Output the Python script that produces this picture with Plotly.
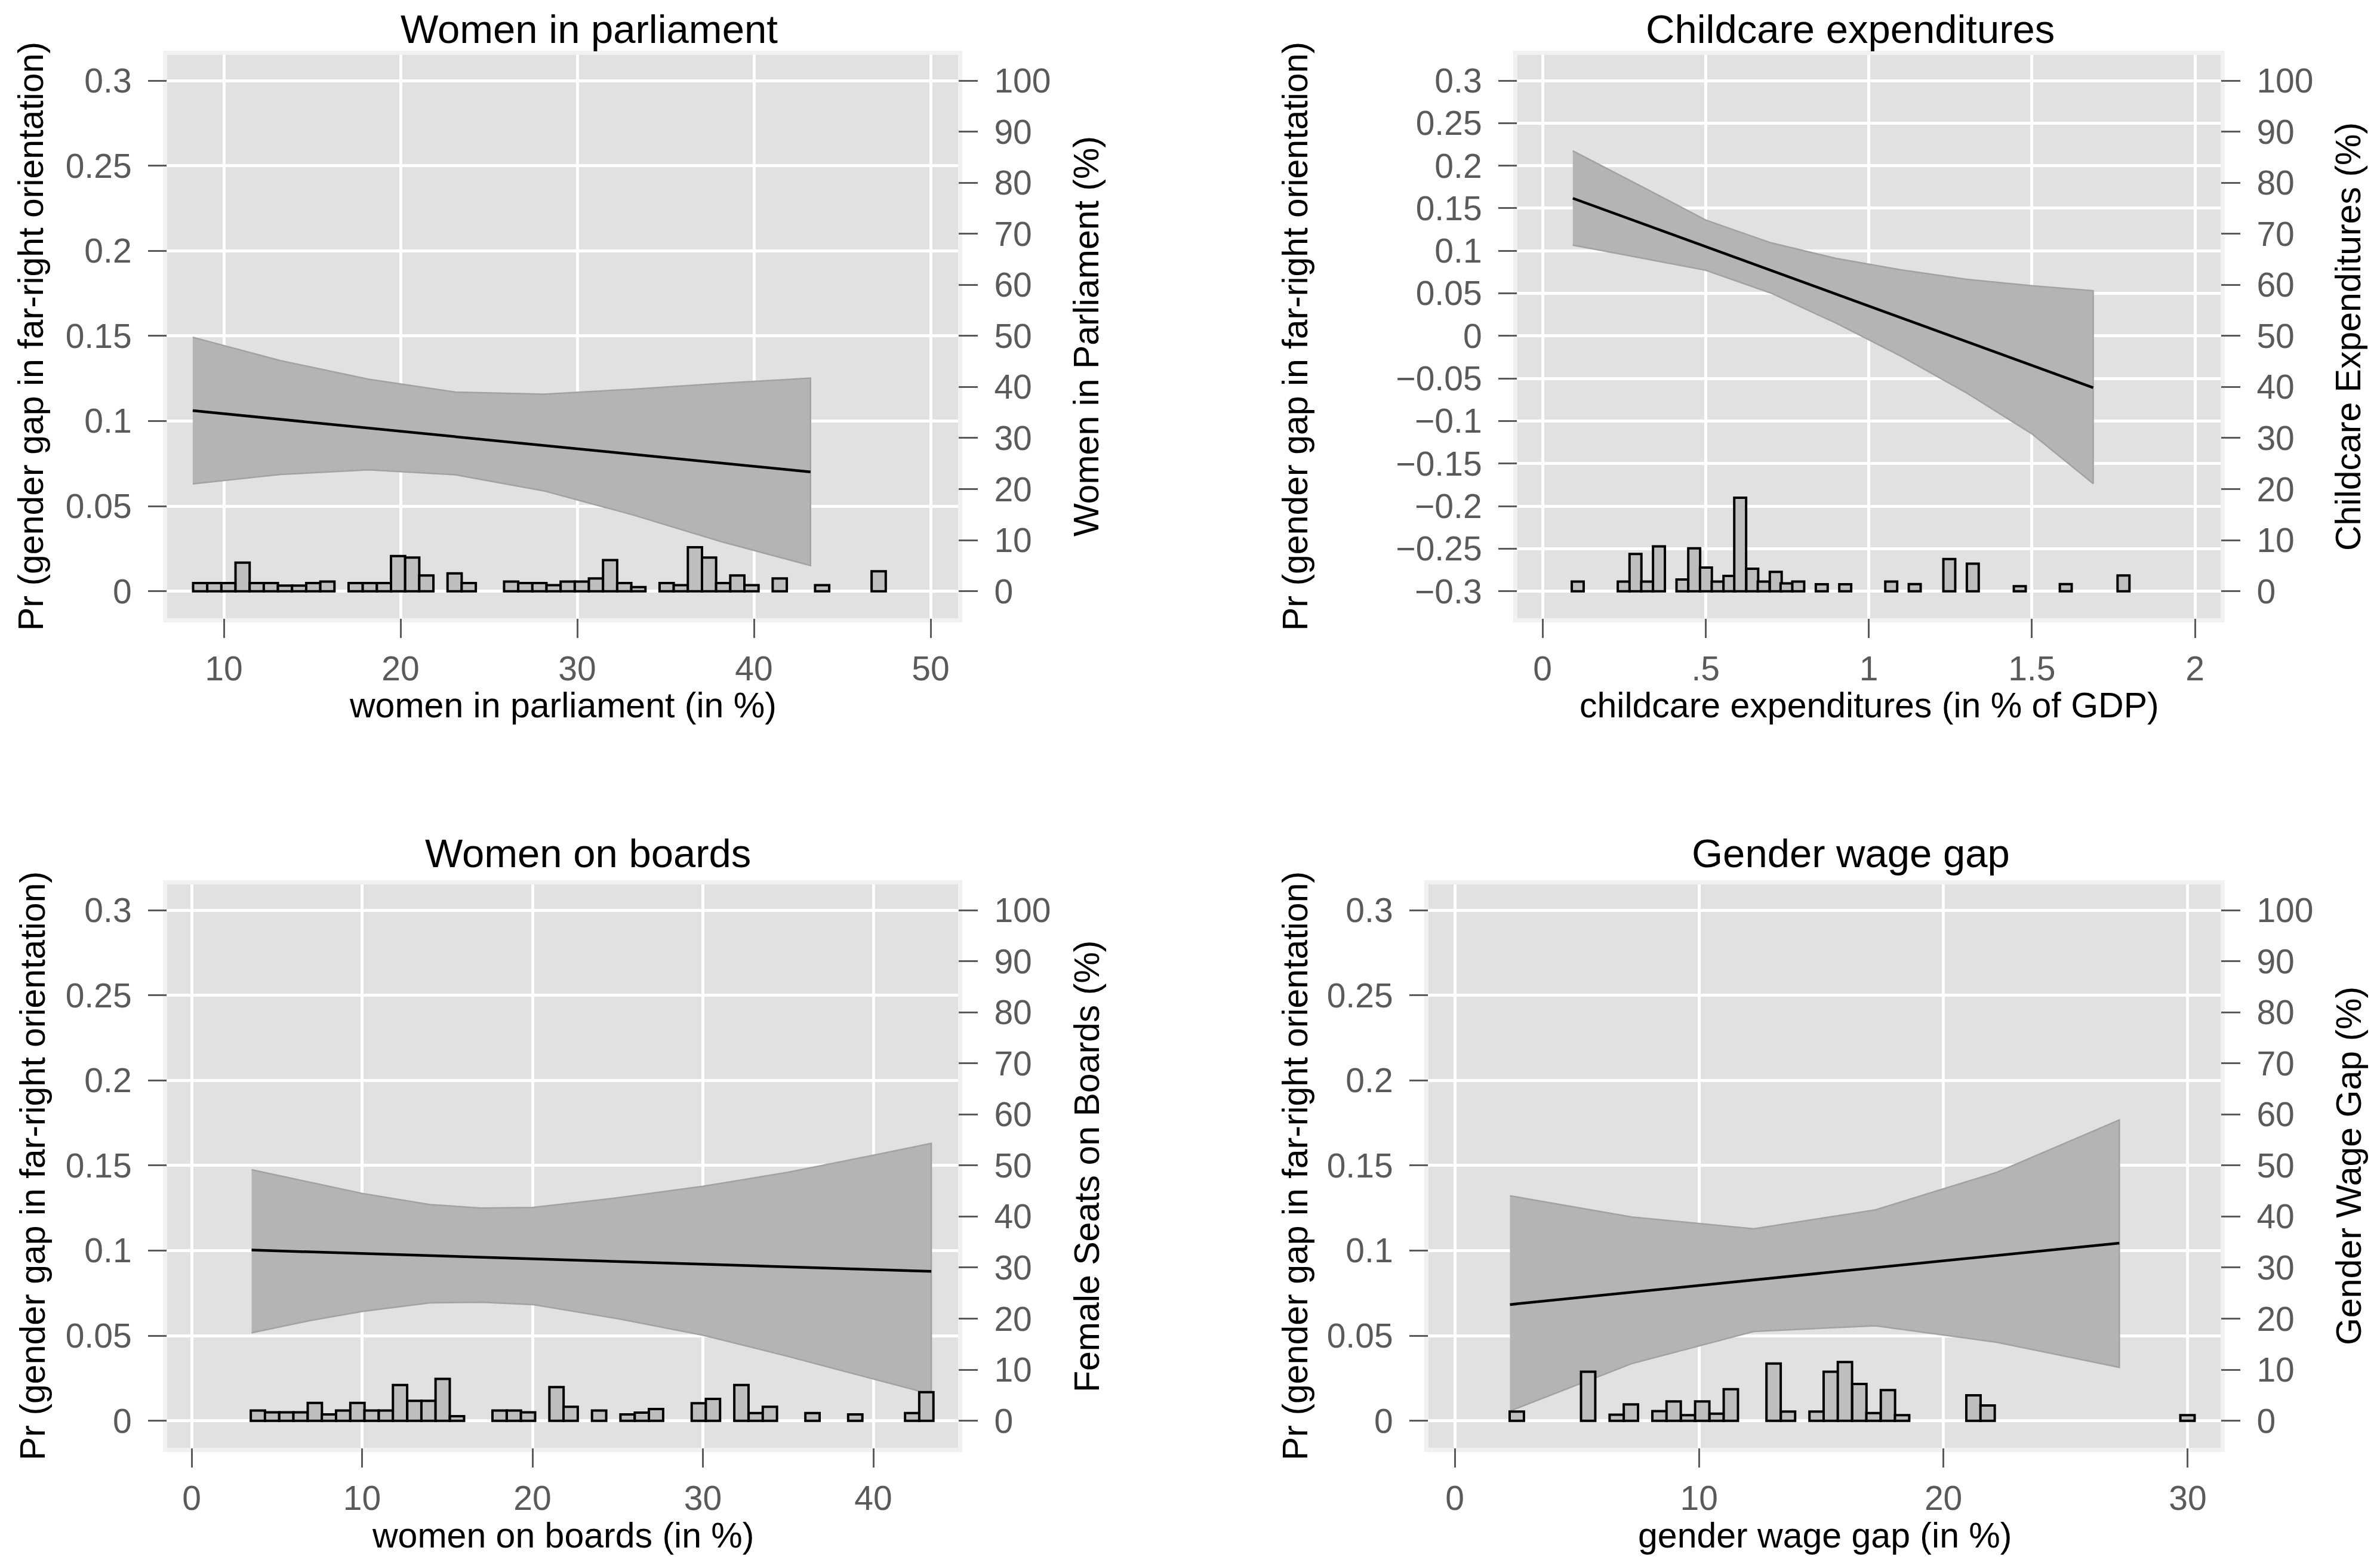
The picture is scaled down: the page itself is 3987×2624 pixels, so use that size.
import plotly.graph_objects as go

W, H = 3987, 2624

# ---------------- data ----------------
# Panel 1: Women in parliament
wp_x = [8.24, 13.2, 18.2, 23.1, 28.1, 33.1, 38.2, 43.2]
wp_fit = [0.1061, 0.1010, 0.0958, 0.0908, 0.0857, 0.0805, 0.0753, 0.0701]
wp_hi = [0.1492, 0.1355, 0.1245, 0.1170, 0.1158, 0.1187, 0.1222, 0.1252]
wp_lo = [0.0631, 0.0686, 0.0713, 0.0684, 0.0590, 0.0450, 0.0290, 0.0151]
wp_hist_x = [8.66, 9.46, 10.26, 11.06, 11.86, 12.66, 13.46, 14.26, 15.06, 15.86,
             17.46, 18.26, 19.06, 19.86, 20.66, 21.46, 23.06, 23.86,
             26.26, 27.06, 27.86, 28.66, 29.46, 30.26, 31.06, 31.86, 32.66, 33.46,
             35.06, 35.86, 36.66, 37.46, 38.26, 39.06, 39.86, 41.46, 43.86, 47.06]
wp_hist_pct = [1.6, 1.6, 1.6, 5.6, 1.6, 1.6, 1.1, 1.1, 1.6, 1.9,
               1.6, 1.6, 1.6, 6.9, 6.6, 3.1, 3.5, 1.6,
               1.9, 1.6, 1.6, 1.2, 1.9, 1.9, 2.5, 6.1, 1.6, 0.8,
               1.6, 1.2, 8.6, 6.6, 1.6, 3.1, 1.2, 2.5, 1.2, 3.9]

# Panel 2: Childcare expenditures
cc_x = [0.093, 0.3, 0.5, 0.7, 0.9, 1.1, 1.3, 1.5, 1.688]
cc_fit = [0.1617, 0.1328, 0.1050, 0.0770, 0.0490, 0.0211, -0.0068, -0.0347, -0.0609]
cc_hi = [0.2174, 0.1764, 0.1362, 0.1094, 0.0910, 0.0775, 0.0665, 0.0590, 0.0531]
cc_lo = [0.1067, 0.0917, 0.0772, 0.0504, 0.0150, -0.0240, -0.0670, -0.1150, -0.1735]
cc_hist_x = [0.108, 0.249, 0.285, 0.321, 0.357, 0.429, 0.465, 0.501, 0.537, 0.573,
             0.606, 0.643, 0.678, 0.715, 0.748, 0.784, 0.856, 0.928, 1.069, 1.141,
             1.247, 1.319, 1.463, 1.604, 1.781]
cc_hist_pct = [1.9, 1.9, 7.3, 1.9, 8.8, 2.3, 8.4, 4.65, 1.9, 3.0,
               18.3, 4.4, 1.9, 3.8, 1.55, 1.9, 1.36, 1.36, 1.9, 1.4,
               6.3, 5.4, 1.0, 1.4, 3.1]

# Panel 3: Women on boards
wb_x = [3.52, 7, 10, 14, 17, 20, 25, 30, 35, 40, 43.4]
wb_fit = [0.1003, 0.0992, 0.0983, 0.0970, 0.0961, 0.0951, 0.0936, 0.0920, 0.0904, 0.0889, 0.0878]
wb_hi = [0.1475, 0.1400, 0.1336, 0.1270, 0.1250, 0.1253, 0.1310, 0.1378, 0.1460, 0.1560, 0.1630]
wb_lo = [0.0517, 0.0590, 0.0642, 0.0693, 0.0697, 0.0683, 0.0600, 0.0503, 0.0378, 0.0245, 0.0156]
wb_hist_x = [3.89, 4.72, 5.56, 6.39, 7.23, 8.06, 8.89, 9.73, 10.56, 11.40,
             12.23, 13.07, 13.90, 14.73, 15.57, 18.07, 18.91, 19.74, 21.41, 22.24,
             23.91, 25.58, 26.42, 27.25, 29.76, 30.59, 32.26, 33.10, 33.93, 36.43,
             38.94, 42.28, 43.11]
wb_hist_pct = [2.0, 1.65, 1.65, 1.65, 3.5, 1.25, 2.0, 3.5, 2.0, 2.0,
               7.0, 3.9, 3.9, 8.2, 0.9, 2.0, 2.0, 1.65, 6.6, 2.75,
               2.0, 1.25, 1.6, 2.3, 3.45, 4.3, 7.0, 1.5, 2.75, 1.5,
               1.25, 1.5, 5.6]

# Panel 4: Gender wage gap
gw_x = [2.26, 7.25, 12.24, 17.22, 22.2, 27.2]
gw_fit = [0.0683, 0.0755, 0.0827, 0.0899, 0.0972, 0.1044]
gw_hi = [0.1322, 0.1197, 0.1128, 0.1239, 0.1460, 0.1767]
gw_lo = [0.0058, 0.0336, 0.0525, 0.0558, 0.0461, 0.0314]
gw_hist_x = [2.54, 5.46, 6.63, 7.21, 8.38, 8.96, 9.55, 10.13, 10.72, 11.30,
             13.05, 13.64, 14.81, 15.39, 15.97, 16.56, 17.14, 17.73, 18.31,
             21.23, 21.81, 29.99]
gw_hist_pct = [1.8, 9.6, 1.2, 3.2, 1.9, 3.8, 1.1, 3.8, 1.4, 6.2,
               11.2, 1.8, 1.8, 9.6, 11.5, 7.2, 1.5, 6.0, 1.1,
               5.0, 3.0, 1.1]

# tick values / labels
y_ticks_pos = [0, 0.05, 0.1, 0.15, 0.2, 0.25, 0.3]
y_labels_pos = ["0", "0.05", "0.1", "0.15", "0.2", "0.25", "0.3"]
y_ticks_cc = [-0.3, -0.25, -0.2, -0.15, -0.1, -0.05, 0, 0.05, 0.1, 0.15, 0.2, 0.25, 0.3]
y_labels_cc = ["\u22120.3", "\u22120.25", "\u22120.2", "\u22120.15", "\u22120.1", "\u22120.05",
               "0", "0.05", "0.1", "0.15", "0.2", "0.25", "0.3"]
r_ticks = [0, 10, 20, 30, 40, 50, 60, 70, 80, 90, 100]
r_labels = [str(v) for v in r_ticks]
x_ticks_wp = [10, 20, 30, 40, 50]
x_ticks_cc = [0, 0.5, 1, 1.5, 2]
x_labels_cc = ["0", ".5", "1", "1.5", "2"]
x_ticks_wb = [0, 10, 20, 30, 40]
x_ticks_gw = [0, 10, 20, 30]

titles = ["Women in parliament", "Childcare expenditures", "Women on boards", "Gender wage gap"]
x_titles = ["women in parliament (in %)", "childcare expenditures (in % of GDP)",
            "women on boards (in %)", "gender wage gap (in %)"]
y_title = "Pr (gender gap in far-right orientation)"
r_titles = ["Women in Parliament (%)", "Childcare Expenditures (%)",
            "Female Seats on Boards (%)", "Gender Wage Gap (%)"]

# ---------------- layout helpers ----------------
FONT = "Liberation Sans, Arial, sans-serif"
TICKC = "#5A5A5A"
OFF = 8  # page body margin of the exported html

def fx(px):
    return (px - OFF) / W

def fy(px):
    return 1 - (px - OFF) / H

rows = [dict(top=92, bot=1036, ytop=135, ybot=990.7, title=48, xtitle=1182),
        dict(top=1482, bot=2426, ytop=1525, ybot=2380.7, title=1429, xtitle=2573)]

panels = [
    dict(row=0, left=280, right=1605, xr=(375, 10, 29.6),
         x=wp_x, fit=wp_fit, hi=wp_hi, lo=wp_lo, hx=wp_hist_x, hp=wp_hist_pct, bw=0.8,
         ylo=0.0, yhi=0.3, yt=y_ticks_pos, yl=y_labels_pos,
         xt=x_ticks_wp, xl=[str(v) for v in x_ticks_wp],
         tx=987, lt=52, rt=1820),
    dict(row=0, left=2542, right=3720, xr=(2584, 0, 546.5),
         x=cc_x, fit=cc_fit, hi=cc_hi, lo=cc_lo, hx=cc_hist_x, hp=cc_hist_pct, bw=0.0364,
         ylo=-0.3, yhi=0.3, yt=y_ticks_cc, yl=y_labels_cc,
         xt=x_ticks_cc, xl=x_labels_cc,
         tx=3099, lt=2170, rt=3934),
    dict(row=1, left=280, right=1605, xr=(321, 0, 28.55),
         x=wb_x, fit=wb_fit, hi=wb_hi, lo=wb_lo, hx=wb_hist_x, hp=wb_hist_pct, bw=0.8346,
         ylo=0.0, yhi=0.3, yt=y_ticks_pos, yl=y_labels_pos,
         xt=x_ticks_wb, xl=[str(v) for v in x_ticks_wb],
         tx=985, lt=55, rt=1821),
    dict(row=1, left=2393, right=3720, xr=(2437, 0, 40.93),
         x=gw_x, fit=gw_fit, hi=gw_hi, lo=gw_lo, hx=gw_hist_x, hp=gw_hist_pct, bw=0.584,
         ylo=0.0, yhi=0.3, yt=y_ticks_pos, yl=y_labels_pos,
         xt=x_ticks_gw, xl=[str(v) for v in x_ticks_gw],
         tx=3100, lt=2170, rt=3935),
]

fig = go.Figure()
layout = dict(width=W, height=H, margin=dict(l=0, r=0, t=0, b=0),
              paper_bgcolor="white", plot_bgcolor="#E1E1E1", showlegend=False,
              font=dict(family=FONT, color="black"))
annotations = []
shapes = []

tickfont = dict(family=FONT, size=57, color=TICKC)

for i, p in enumerate(panels):
    r = rows[p["row"]]
    xa = "x" if i == 0 else f"x{i+1}"
    ya = "y" if i == 0 else f"y{2*i+1}"
    yb = f"y{2*i+2}"
    xkey = "xaxis" if i == 0 else f"xaxis{i+1}"
    ykey = "yaxis" if i == 0 else f"yaxis{2*i+1}"
    y2key = f"yaxis{2*i+2}"

    # x range from pixel geometry
    px0, v0, ppu = p["xr"]
    xmin = v0 + (p["left"] - px0) / ppu
    xmax = v0 + (p["right"] - px0) / ppu
    # y range from pixel geometry
    span = r["ybot"] - r["ytop"]
    vpp = (p["yhi"] - p["ylo"]) / span
    ymax = p["yhi"] + (r["ytop"] - r["top"]) * vpp
    ymin = p["ylo"] - (r["bot"] - r["ybot"]) * vpp
    # right axis: 0..100 maps onto ylo..yhi
    rs = (p["yhi"] - p["ylo"]) / 100.0
    r2min = (ymin - p["ylo"]) / rs
    r2max = (ymax - p["ylo"]) / rs

    dom_x = [fx(p["left"]), fx(p["right"])]
    dom_y = [fy(r["bot"]), fy(r["top"])]

    layout[xkey] = dict(domain=dom_x, range=[xmin, xmax], anchor=ya,
                        tickvals=p["xt"], ticktext=p["xl"], ticks="outside",
                        ticklen=32, tickwidth=3, tickcolor=TICKC, tickfont=tickfont,
                        ticklabelstandoff=3,
                        showgrid=True, gridcolor="white", gridwidth=5,
                        zeroline=False, showline=False)
    layout[ykey] = dict(domain=dom_y, range=[ymin, ymax], anchor=xa,
                        tickvals=p["yt"], ticktext=p["yl"], ticks="outside",
                        ticklen=31, tickwidth=3, tickcolor=TICKC, tickfont=tickfont,
                        ticklabelstandoff=16,
                        showgrid=True, gridcolor="white", gridwidth=5,
                        zeroline=False, showline=False)
    layout[y2key] = dict(domain=dom_y, range=[r2min, r2max], anchor=xa,
                         overlaying=ya, side="right",
                         tickvals=r_ticks, ticktext=r_labels, ticks="outside",
                         ticklen=32, tickwidth=3, tickcolor=TICKC, tickfont=tickfont,
                         ticklabelstandoff=16,
                         showgrid=False, zeroline=False, showline=False)

    # light frame around plot region
    shapes.append(dict(type="rect", xref="paper", yref="paper", layer="below",
                       x0=fx(p["left"] - 3.5), x1=fx(p["right"] + 3.5),
                       y0=fy(r["bot"] + 3.5), y1=fy(r["top"] - 3.5),
                       line=dict(color="#F1F1F1", width=7), fillcolor="rgba(0,0,0,0)"))

    # CI band
    bx = list(p["x"]) + list(p["x"])[::-1]
    by = list(p["hi"]) + list(p["lo"])[::-1]
    fig.add_trace(go.Scatter(x=bx, y=by, xaxis=xa, yaxis=ya, mode="lines",
                             fill="toself", fillcolor="#B4B4B4",
                             line=dict(color="#A2A2A2", width=2.5), hoverinfo="skip"))
    # fitted line
    fig.add_trace(go.Scatter(x=p["x"], y=p["fit"], xaxis=xa, yaxis=ya, mode="lines",
                             line=dict(color="black", width=4.5), hoverinfo="skip"))
    # histogram
    fig.add_trace(go.Bar(x=p["hx"], y=p["hp"], width=p["bw"], base=0,
                         xaxis=xa, yaxis=yb,
                         marker=dict(color="#BEBEBE", line=dict(color="black", width=4)),
                         hoverinfo="skip"))

    cx = (p["left"] + p["right"]) / 2
    cy = (r["top"] + r["bot"]) / 2
    annotations.append(dict(text=titles[i], x=fx(p["tx"]), y=fy(r["title"]),
                            xref="paper", yref="paper", showarrow=False,
                            xanchor="center", yanchor="middle",
                            font=dict(family=FONT, size=67, color="black")))
    annotations.append(dict(text=x_titles[i], x=fx(cx), y=fy(r["xtitle"]),
                            xref="paper", yref="paper", showarrow=False,
                            xanchor="center", yanchor="middle",
                            font=dict(family=FONT, size=59, color="black")))
    annotations.append(dict(text=y_title, x=fx(p["lt"]), y=fy(cy),
                            xref="paper", yref="paper", showarrow=False, textangle=-90,
                            xanchor="center", yanchor="middle",
                            font=dict(family=FONT, size=59, color="black")))
    annotations.append(dict(text=r_titles[i], x=fx(p["rt"]), y=fy(cy),
                            xref="paper", yref="paper", showarrow=False, textangle=-90,
                            xanchor="center", yanchor="middle",
                            font=dict(family=FONT, size=59, color="black")))

layout["annotations"] = annotations
layout["shapes"] = shapes
fig.update_layout(**layout)
fig.write_html("out.html")
